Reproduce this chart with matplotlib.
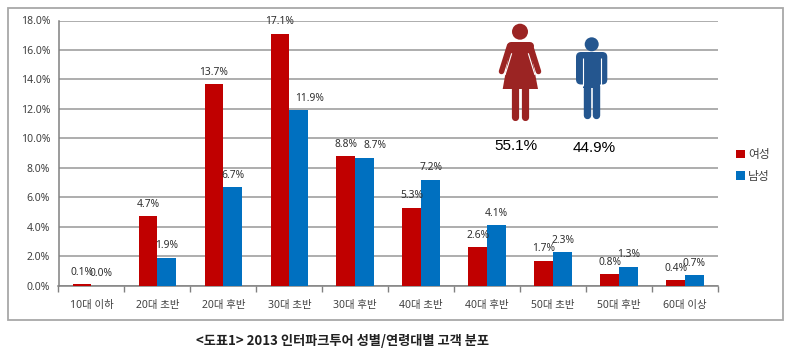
# -*- coding: utf-8 -*-
import numpy as np
import matplotlib.pyplot as plt
from matplotlib.patches import Circle, Polygon, Rectangle, FancyBboxPatch

plt.rcParams['font.family'] = ['Noto Sans', 'Noto Sans CJK KR', 'DejaVu Sans']

categories = ['10대 이하', '20대 초반', '20대 후반', '30대 초반', '30대 후반',
              '40대 초반', '40대 후반', '50대 초반', '50대 후반', '60대 이상']
female = [0.1, 4.7, 13.7, 17.1, 8.8, 5.3, 2.6, 1.7, 0.8, 0.4]
male = [0.0, 1.9, 6.7, 11.9, 8.7, 7.2, 4.1, 2.3, 1.3, 0.7]
yticks = [0, 2, 4, 6, 8, 10, 12, 14, 16, 18]
share_labels = ['55.1%', '44.9%']
caption = '<도표1> 2013 인터파크투어 성별/연령대별 고객 분포'

W, H = 800, 357
RED, BLUE = '#C00000', '#0070C0'
ICON_RED, ICON_BLUE = '#9B2423', '#24568F'
TEXT = '#404040'

fig = plt.figure(figsize=(8, 3.57), dpi=100)

# overlay in pixel coords for the frame, icons and caption
bg = fig.add_axes([0, 0, 1, 1], zorder=0)
bg.set_xlim(0, W)
bg.set_ylim(H, 0)
bg.axis('off')
bg.add_patch(Rectangle((8, 7.5), 775, 312.5, fc='white', ec='#A8A8A8', lw=1.3))

ax = fig.add_axes([58.5 / W, 1 - 285.7 / H, 659.5 / W, 265.2 / H], zorder=1)
ax.patch.set_alpha(0)
x = np.arange(len(categories))
w = 0.285
b1 = ax.bar(x - w / 2, female, w, color=RED, label='여성', zorder=3)
b2 = ax.bar(x + w / 2, male, w, color=BLUE, label='남성', zorder=3)

# two labels were dragged sideways in the original
nudge = {'11.9%': 7.5, '8.7%': 7.5}
for bars, vals in ((b1, female), (b2, male)):
    for r, v in zip(bars, vals):
        s = '%.1f%%' % v
        ax.annotate(s, (r.get_x() + r.get_width() / 2, v),
                    xytext=(nudge.get(s, 0), 8.5), textcoords='offset points', ha='center', va='center',
                    fontsize=7.4, color='#303030', zorder=5)

ax.set_xlim(-0.5, 9.5)
ax.set_ylim(0, 18)
ax.set_yticks(yticks)
ax.set_yticklabels(['%.1f%%' % t for t in yticks], fontsize=7.5, color=TEXT)
ax.set_xticks(np.arange(-0.5, 10, 1))
ax.set_xticklabels([])
ax.set_xticks(x, minor=True)
ax.set_xticklabels(categories, minor=True, fontsize=7.5, color=TEXT)
ax.tick_params(axis='x', which='major', length=4, direction='out', width=1, color='#808080')
ax.tick_params(axis='x', which='minor', length=0, pad=10)
ax.tick_params(axis='y', length=0, pad=6)
ax.grid(axis='y', color='#A0A0A0', lw=1.2, zorder=1)
ax.set_axisbelow(True)
for s in ('top', 'right'):
    ax.spines[s].set_visible(False)
for s in ('left', 'bottom'):
    ax.spines[s].set_color('#808080')
    ax.spines[s].set_linewidth(1.1)

fig.legend(handles=[b1, b2], loc='upper left', bbox_to_anchor=(736 / W, 1 - 148 / H),
           frameon=False, fontsize=8.5, labelcolor=TEXT, handlelength=0.75, handleheight=0.75,
           handletextpad=0.25, labelspacing=0.75, borderpad=0, borderaxespad=0)

# person icons on top of the gridlines
top = fig.add_axes([0, 0, 1, 1], zorder=2)
top.set_xlim(0, W)
top.set_ylim(H, 0)
top.axis('off')


def limb(x0, y0, x1, y1, width, color):
    # width in pixels, at dpi 100
    top.plot([x0, x1], [y0, y1], color=color, lw=width * 0.72, solid_capstyle='round')


def slit(x0, y0, x1, y1):
    top.plot([x0, x1], [y0, y1], color='white', lw=0.8, solid_capstyle='butt')


# woman
top.add_patch(Circle((520, 31.7), 8, fc=ICON_RED, ec='none'))
top.add_patch(Polygon([(511, 42), (529, 42), (538, 89), (502.7, 89)], fc=ICON_RED, ec='none'))
limb(511, 46, 530, 46, 8, ICON_RED)
limb(509.5, 46, 501.5, 71.5, 5.5, ICON_RED)
limb(530.5, 46, 538.5, 71.5, 5.5, ICON_RED)
slit(511.7, 53.3, 505, 75)
slit(528.3, 53.3, 535, 75)
limb(515.3, 88, 515.3, 116.5, 7.2, ICON_RED)
limb(525, 88, 525, 116.5, 7.2, ICON_RED)

# man
top.add_patch(Circle((591.7, 44.3), 7, fc=ICON_BLUE, ec='none'))
top.add_patch(FancyBboxPatch((581, 57), 21.3, 22.5, boxstyle='round,pad=5,rounding_size=5',
                             fc=ICON_BLUE, ec='none'))
slit(582.7, 58, 582.7, 85.5)
slit(600.7, 58, 600.7, 85.5)
top.add_patch(Rectangle((583.3, 58), 17, 30, fc=ICON_BLUE, ec='none'))
limb(587, 86, 587, 114.7, 7.4, ICON_BLUE)
limb(596.4, 86, 596.4, 114.7, 7.4, ICON_BLUE)

top.text(516, 146, share_labels[0], fontsize=11, family='Liberation Sans', color='black',
         ha='center', va='center')
top.text(594.5, 148, share_labels[1], fontsize=11, family='Liberation Sans', color='black',
         ha='center', va='center')
top.text(343, 341, caption, fontsize=9.5, family='Noto Sans CJK KR', fontweight='bold', color='#202020',
         ha='center', va='center')

fig.savefig('out.png', dpi=100)
